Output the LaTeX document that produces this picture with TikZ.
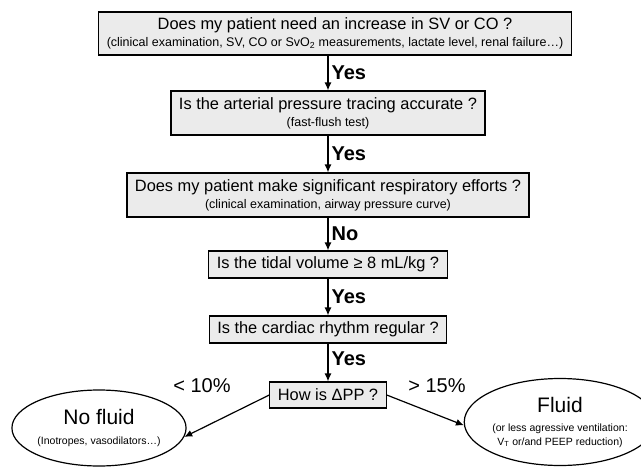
\documentclass[tikz,border=0pt]{standalone}
\usepackage{fontspec}
\setmainfont{Liberation Sans}
\usetikzlibrary{shapes.geometric,arrows.meta}
\definecolor{boxgray}{gray}{0.92}
\newcommand{\qsize}{\fontsize{16.4}{19}\selectfont}
\newcommand{\notesize}{\fontsize{12.5}{14}\selectfont}
\newcommand{\smallnote}{\fontsize{10.5}{12.5}\selectfont}

\begin{document}
\begin{tikzpicture}[x=1pt, y=1pt, line width=1.2pt,
  question/.style = {draw, fill=boxgray, align=center, font=\qsize, inner xsep=8pt, inner ysep=3pt, minimum height=27pt},
  answer/.style = {right, inner sep=3pt, font=\bfseries\fontsize{20}{22}\selectfont},
  pct/.style = {font=\fontsize{20}{22}\selectfont},
  outcome/.style = {draw, ellipse, align=center, inner sep=0pt, font=\fontsize{21}{24}\selectfont},
  arr/.style = {-{Latex[length=8pt,width=7pt]}}]
\useasboundingbox (0,0) rectangle (641,-469);
\node[question, minimum height=43pt] (q1) at (335,-33.5) {Does my patient need an increase in SV or CO ?\\[-2pt]{\notesize (clinical examination, SV, CO or SvO\textsubscript{2} measurements, lactate level, renal failure…)}};
\node[question, minimum height=44pt] (q2) [below of=q1, node distance=79.5pt, xshift=-7pt] {Is the arterial pressure tracing accurate ?\\[-2pt]{\notesize (fast-flush test)}};
\node[question, minimum height=44pt] (q3) [below of=q2, node distance=82pt] {Does my patient make significant respiratory efforts ?\\[-2pt]{\notesize (clinical examination, airway pressure curve)}};
\node[question] (q4) [below of=q3, node distance=69.5pt] {Is the tidal volume ≥ 8 mL/kg ?};
\node[question] (q5) [below of=q4, node distance=65pt] {Is the cardiac rhythm regular ?};
\node[question, minimum height=26pt] (q6) [below of=q5, node distance=65.5pt] {How is ΔPP ?};
\node[outcome, minimum width=172pt, minimum height=76pt] (nofluid) at (99,-428) {No fluid\\[-4pt]{\smallnote (Inotropes, vasodilators…)}};
\node[outcome, minimum width=160pt, minimum height=87pt] (fluid) at (560,-422) {Fluid\\[-5pt]{\smallnote (or less agressive ventilation:}\\[-10pt]{\smallnote V\textsubscript{T} or/and PEEP reduction)}};
\node[pct] (low) at (202,-386) {\textless\ 10\%};
\node[pct] (high) at (437,-386) {\textgreater\ 15\%};
\draw[arr] (q2 |- q1.south) -- node[answer] {Yes} (q2);
\draw[arr] (q2) -- node[answer] {Yes} (q3);
\draw[arr] (q3) -- node[answer] {No} (q4);
\draw[arr] (q4) -- node[answer] {Yes} (q5);
\draw[arr] (q5) -- node[answer, pos=0.4] {Yes} (q6);
\draw[arr] (q6.west) -- (nofluid.-6);
\draw[arr] (q6.east) -- (fluid.182);
\end{tikzpicture}
\end{document}
